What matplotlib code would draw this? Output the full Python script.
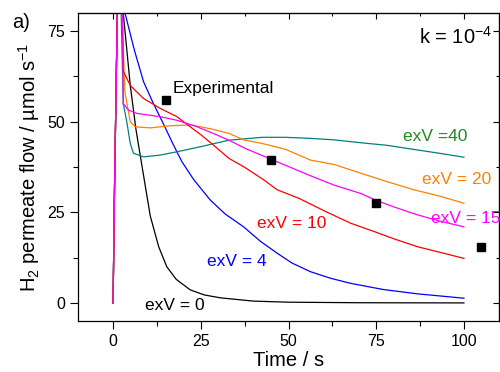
import numpy as np
import matplotlib
matplotlib.use("Agg")
from matplotlib import pyplot as plt
from matplotlib.ticker import MultipleLocator

plt.rcParams['font.family'] = ['Liberation Sans', 'DejaVu Sans']
plt.rcParams['mathtext.fontset'] = 'custom'
plt.rcParams['mathtext.rm'] = 'Liberation Sans'
plt.rcParams['mathtext.it'] = 'Liberation Sans'

# simulated curves (time in s, flow in umol/s)
t_ex0 = [0, 0.4, 1.2, 1.8, 2.9, 4.9, 6.5, 8.2, 10.6, 13, 15.3, 18, 22, 26, 30.6, 40, 50, 70, 100]
y_ex0 = [0, 31, 80, 105, 80, 60, 48, 38, 24, 15.5, 10, 6.5, 3.6, 2.2, 1.4, 0.5, 0.2, 0.05, 0]

t_ex4 = [0, 0.4, 1.2, 1.8, 3.4, 6, 8.7, 11.5, 14.3, 17, 19.6, 23, 27.7, 32, 37.2, 42, 46.8, 51,
         56.3, 62, 67.7, 77, 86.8, 100]
y_ex4 = [0, 31, 80, 105, 80, 70, 61, 55, 49.5, 44, 39, 34, 28.4, 24.5, 21, 17, 13.7, 11,
         8.6, 6.8, 5.4, 3.7, 2.5, 1.3]

t_ex10 = [0, 0.4, 1.2, 1.8, 2.6, 2.9, 4.9, 8.7, 13.4, 18.2, 22, 24.9, 28.7, 33, 37.2, 42.9, 46.8, 52.9,
          60, 67.7, 74.4, 80, 86.8, 93, 100]
y_ex10 = [0, 31, 80, 105, 80, 64, 60, 56.4, 53.7, 51.4, 48.6, 46.5, 43.5, 39.9, 37.6, 34, 31.2, 28.9,
          25.5, 22, 19.7, 17.7, 15.5, 14, 12.3]

t_ex15 = [0, 0.4, 1.2, 1.8, 2.7, 2.9, 4.4, 6.8, 13.4, 18.2, 23.4, 28, 33, 38, 44.4, 49.1, 56, 63,
          70.6, 75, 80, 86.8, 93, 100]
y_ex15 = [0, 31, 80, 105, 80, 55, 53.2, 52.3, 51.4, 50.4, 48.8, 47, 44.9, 42.5, 39.9, 38, 35.2, 32.5,
          30.2, 28.3, 26.5, 24.3, 22.6, 21]

t_ex20 = [0, 0.4, 1.2, 1.8, 2.5, 3.4, 4.9, 6.3, 10.6, 16.3, 22, 24.9, 28, 33, 37.2, 42.5, 49.1, 56.3,
          63, 70.6, 78, 85.8, 93, 100]
y_ex20 = [0, 31, 80, 105, 80, 58, 50, 48.6, 48.3, 48.9, 49.1, 48.6, 48, 46.8, 45, 44, 42.4, 39.4,
          38.2, 35.8, 33.5, 31.2, 29.5, 27.5]

t_ex40 = [0, 0.4, 1.2, 1.8, 2.3, 2.9, 3.9, 4.9, 5.8, 8.7, 13.4, 18.2, 24.9, 33, 42.5, 49.1, 56.3, 63,
          70.6, 78, 86.8, 93, 100]
y_ex40 = [0, 31, 80, 105, 80, 55, 50, 44, 41.3, 40.3, 40.8, 41.7, 43.1, 44.9, 45.7, 45.7, 45.4, 45,
          44.2, 43.5, 42.2, 41.3, 40.2]

# experimental points
t_exp = [15, 45, 75, 105]
y_exp = [56, 39.5, 27.5, 15.5]

fig = plt.figure(figsize=(5, 3.72), dpi=100)
ax = fig.add_axes([0.156, 0.137, 0.842, 0.828])

lw = 0.9
ax.plot(t_ex0, y_ex0, color='black', lw=lw)
ax.plot(t_ex4, y_ex4, color='#0000FF', lw=lw)
ax.plot(t_ex40, y_ex40, color='#008080', lw=lw)
ax.plot(t_ex20, y_ex20, color='#FF8000', lw=lw)
ax.plot(t_ex10, y_ex10, color='#FF0000', lw=lw)
ax.plot(t_ex15, y_ex15, color='#FF00FF', lw=lw)
ax.plot(t_exp, y_exp, 's', color='black', ms=5.5, clip_on=False)

ax.set_xlim(-10, 110)
ax.set_ylim(-5, 80)
ax.xaxis.set_major_locator(MultipleLocator(25))
ax.xaxis.set_minor_locator(MultipleLocator(12.5))
ax.yaxis.set_major_locator(MultipleLocator(25))
ax.yaxis.set_minor_locator(MultipleLocator(12.5))
ax.tick_params(which='both', direction='out', labelsize=11.5, width=0.8)
ax.tick_params(which='major', length=6)
ax.tick_params(which='minor', length=3.5)

# mirrored ticks on top / right, pointing in
axt = ax.secondary_xaxis('top')
axt.xaxis.set_major_locator(MultipleLocator(25))
axt.xaxis.set_minor_locator(MultipleLocator(12.5))
axt.tick_params(which='both', direction='in', labeltop=False, width=0.8)
axt.tick_params(which='major', length=4)
axt.tick_params(which='minor', length=2.5)
axr = ax.secondary_yaxis('right')
axr.yaxis.set_major_locator(MultipleLocator(25))
axr.yaxis.set_minor_locator(MultipleLocator(12.5))
axr.tick_params(which='both', direction='in', labelright=False, width=0.8)
axr.tick_params(which='major', length=4)
axr.tick_params(which='minor', length=2.5)

for s in ax.spines.values():
    s.set_linewidth(0.9)

ax.set_xlabel('Time / s', fontsize=14.5, labelpad=1)
ax.set_ylabel(r'H$_2$ permeate flow / µmol s$^{-1}$', fontsize=14.5, labelpad=4)

ax.text(17.1, 59.1, 'Experimental', fontsize=12.5, va='center', ha='left')
ax.text(17.5, -0.8, 'exV = 0', fontsize=12.5, va='center', ha='center', color='black')
ax.text(35.4, 11.3, 'exV = 4', fontsize=12.5, va='center', ha='center', color='#0000FF')
ax.text(51, 21.9, 'exV = 10', fontsize=12.5, va='center', ha='center', color='#FF0000')
ax.text(90.6, 23.4, 'exV = 15', fontsize=12.5, va='center', ha='left', color='#FF00FF')
ax.text(88, 34, 'exV = 20', fontsize=12.5, va='center', ha='left', color='#FF8000')
ax.text(82.5, 46, 'exV =40', fontsize=12.5, va='center', ha='left', color='#1E8C1E')
ax.text(108, 73.5, r'k = 10$^{-4}$', fontsize=14.5, va='center', ha='right')
fig.text(0.024, 0.94, 'a)', fontsize=14.5, va='center', ha='left')

fig.savefig('out.png', dpi=100)
